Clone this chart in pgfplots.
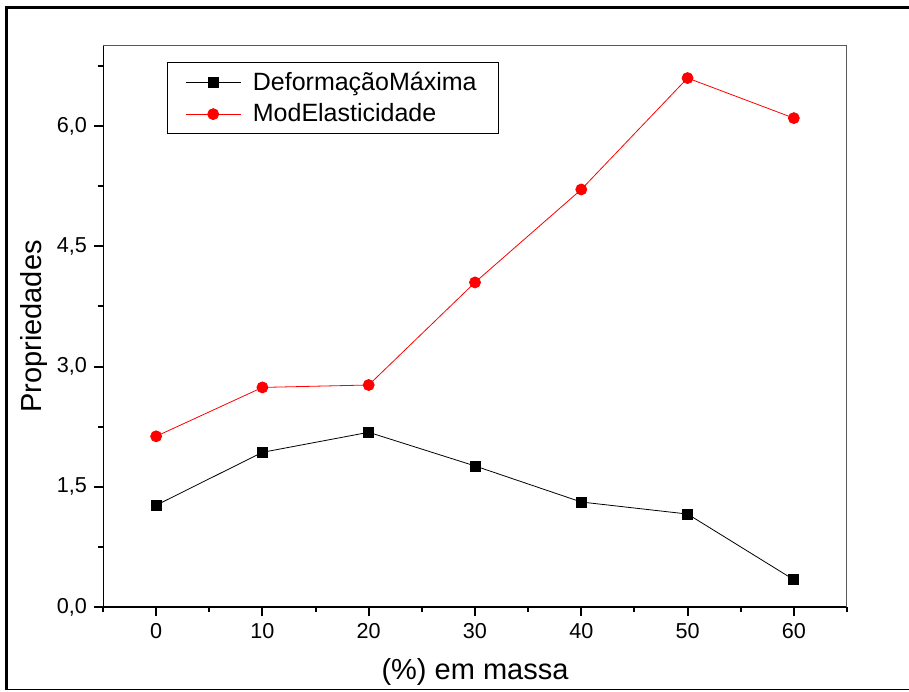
\documentclass[border=0pt]{standalone}
\usepackage{fontspec}
\setmainfont{Liberation Sans}
\usepackage{pgfplots}
\pgfplotsset{compat=1.18}
\begin{document}
\begin{tikzpicture}
\useasboundingbox (0,0) rectangle (454.5pt,345.5pt);
\draw[line width=1.5pt] (3.25pt,0.75pt) -- (3.25pt,341.75pt) -- (454.5pt,341.75pt);
\draw[line width=0.6pt] (3.25pt,0.75pt) -- (454.5pt,0.75pt);
\begin{axis}[
  at={(51.5pt,42pt)}, anchor=south west,
  scale only axis, width=372pt, height=280.5pt,
  xmin=-5, xmax=65, ymin=0, ymax=7,
  xtick={0,10,...,60}, minor xtick={-5,5,...,65},
  ytick={0,1.5,3,4.5,6}, minor ytick={0.75,2.25,3.75,5.25,6.75},
  tick align=outside, tick pos=left,
  major tick length=4.5pt, minor tick length=2.5pt,
  every tick/.style={black, line width=1pt},
  axis line style={draw=none},
  /pgf/number format/assume math mode=true,
  yticklabel style={/pgf/number format/.cd, fixed, fixed zerofill, precision=1, use comma},
  tick label style={font=\fontsize{10.8}{12}\selectfont},
  label style={font=\fontsize{14.5}{16}\selectfont},
  xlabel={(\%) em massa},
  ylabel={Propriedades},
  xlabel style={yshift=-3pt},
  ylabel style={yshift=-2pt},
  legend style={at={(0.086,0.971)}, anchor=north west, draw=black, line width=0.5pt,
    font=\fontsize{12.5}{14}\selectfont, row sep=1.2pt, inner xsep=9pt, inner ysep=2.5pt},
  legend cell align=left,
  legend image code/.code={\draw[mark repeat=2,mark phase=2] plot coordinates {(0cm,0cm)(0.48cm,0cm)(0.96cm,0cm)};\path (1.1cm,0cm);},
]
\draw[line width=1pt, black] (rel axis cs:0,1) -- (rel axis cs:0,0) -- (rel axis cs:1,0);
\draw[line width=0.5pt, black!65] (rel axis cs:0,1) -- (rel axis cs:1,1) -- (rel axis cs:1,0);
\addplot[black, line width=0.4pt, mark=square*, mark size=2.5pt, mark options={solid}]
  coordinates {(0,1.27) (10,1.93) (20,2.18) (30,1.76) (40,1.31) (50,1.16) (60,0.34)};
\addlegendentry{DeformaçãoMáxima}
\addplot[red, line width=0.4pt, mark=*, mark size=2.75pt]
  coordinates {(0,2.13) (10,2.74) (20,2.77) (30,4.05) (40,5.21) (50,6.60) (60,6.10)};
\addlegendentry{ModElasticidade}
\end{axis}
\end{tikzpicture}
\end{document}
